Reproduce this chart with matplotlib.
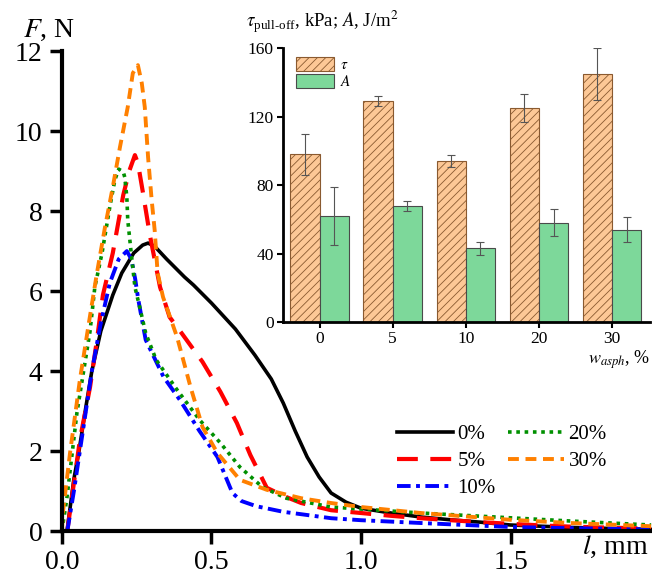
import matplotlib
matplotlib.use("Agg")
import matplotlib.pyplot as plt
import numpy as np

plt.rcParams['font.family'] = ['Liberation Serif', 'DejaVu Serif']
plt.rcParams['mathtext.fontset'] = 'stix'
plt.rcParams['hatch.linewidth'] = 0.6

# ---- main curves: F (N) vs l (mm) ----
x0 = [0.017, 0.04, 0.057, 0.08, 0.10, 0.13, 0.17, 0.2, 0.24, 0.27, 0.288, 0.31, 0.35, 0.41, 0.44, 0.5, 0.58, 0.645,
      0.7, 0.74, 0.78, 0.82, 0.86, 0.9, 0.95, 1.0, 1.1, 1.2, 1.3, 1.4, 1.5, 1.6, 1.7, 1.8, 1.97]
y0 = [0.0, 1.3, 2.0, 3.1, 4.0, 5.0, 5.9, 6.45, 6.95, 7.15, 7.2, 7.12, 6.8, 6.35, 6.15, 5.7, 5.05, 4.4,
      3.8, 3.2, 2.5, 1.85, 1.35, 0.95, 0.72, 0.57, 0.45, 0.35, 0.28, 0.22, 0.15, 0.12, 0.09, 0.07, 0.04]

x5 = [0.018, 0.027, 0.06, 0.094, 0.117, 0.137, 0.17, 0.205, 0.225, 0.244, 0.254, 0.27, 0.294, 0.328, 0.36, 0.40,
      0.47, 0.53, 0.585, 0.63, 0.685, 0.75, 0.8, 0.9, 1.0, 1.1, 1.2, 1.3, 1.4, 1.5, 1.6, 1.7, 1.8, 1.97]
y5 = [0.0, 0.5, 2.28, 3.6, 4.78, 5.9, 6.95, 8.4, 9.0, 9.4, 9.2, 8.5, 7.4, 6.1, 5.35, 4.95,
      4.23, 3.48, 2.7, 1.9, 1.08, 0.85, 0.7, 0.52, 0.45, 0.38, 0.32, 0.27, 0.22, 0.18, 0.14, 0.11, 0.09, 0.06]

x10 = [0.018, 0.04, 0.06, 0.10, 0.13, 0.16, 0.19, 0.217, 0.232, 0.245, 0.255, 0.28, 0.34, 0.395, 0.46, 0.52,
       0.57, 0.6, 0.65, 0.74, 0.9, 1.0, 1.2, 1.5, 1.7, 1.97]
y10 = [0.0, 1.0, 2.0, 4.0, 5.2, 6.2, 6.8, 7.0, 6.8, 6.3, 5.8, 4.78, 3.85, 3.27, 2.5, 1.85,
       0.95, 0.75, 0.62, 0.48, 0.32, 0.27, 0.2, 0.1, 0.07, 0.04]

x20 = [0.0, 0.017, 0.05, 0.094, 0.11, 0.134, 0.16, 0.177, 0.19, 0.205, 0.21, 0.217, 0.22, 0.227, 0.233, 0.244,
       0.26, 0.28, 0.315, 0.385, 0.46, 0.53, 0.595, 0.67, 0.75, 0.9, 1.0, 1.2, 1.5, 1.7, 1.97]
y20 = [0.0, 0.85, 2.95, 5.0, 6.1, 6.95, 8.1, 8.78, 9.05, 8.98, 8.85, 8.35, 7.78, 7.28, 6.85, 6.1,
       5.6, 4.95, 4.28, 3.53, 2.78, 2.2, 1.6, 1.1, 0.82, 0.6, 0.55, 0.45, 0.33, 0.25, 0.15]

x30 = [0.0, 0.003, 0.027, 0.06, 0.09, 0.117, 0.144, 0.17, 0.194, 0.22, 0.237, 0.254, 0.267, 0.277, 0.288, 0.3,
       0.31, 0.32, 0.338, 0.385, 0.43, 0.47, 0.52, 0.595, 0.685, 0.8, 0.9, 1.0, 1.2, 1.5, 1.7, 1.97]
y30 = [0.0, 0.45, 1.95, 3.78, 5.2, 6.45, 7.6, 8.6, 9.6, 10.6, 11.45, 11.65, 11.2, 10.6, 9.35, 8.28,
       7.53, 6.45, 5.85, 4.85, 3.6, 2.6, 1.95, 1.28, 1.03, 0.82, 0.7, 0.6, 0.45, 0.28, 0.2, 0.12]

curve_labels = ['0%', '5%', '10%', '20%', '30%']

# ---- inset bars ----
categories = ['0', '5', '10', '20', '30']
tau = [98, 129, 94, 125, 145]
tau_err = [12, 3, 3.5, 8, 15]
A = [62, 68, 43, 58, 54]
A_err = [17, 3, 4, 8, 7.5]

fig = plt.figure(figsize=(6.52, 5.74), dpi=100)
ax = fig.add_axes([0.095, 0.0749, 0.905, 0.836])

ax.plot(x0, y0, color='black', lw=2.6, ls='-', label=curve_labels[0])
ax.plot(x5, y5, color='#ff0000', lw=3.0, ls=(0, (5, 3)), label=curve_labels[1])
ax.plot(x10, y10, color='#0000ff', lw=2.8, ls=(0, (3.5, 1.4, 1, 1.4)), label=curve_labels[2])
ax.plot(x20, y20, color='#009000', lw=2.6, ls=(0, (1, 1.3)), label=curve_labels[3])
ax.plot(x30, y30, color='#ff8000', lw=2.8, ls=(0, (2.8, 1.7)), label=curve_labels[4])

ax.set_xlim(0, 1.973)
ax.set_ylim(0, 12)
ax.set_xticks([0.0, 0.5, 1.0, 1.5])
ax.set_xticklabels(['0.0', '0.5', '1.0', '1.5'])
ax.set_yticks([0, 2, 4, 6, 8, 10, 12])
for s in ['top', 'right']:
    ax.spines[s].set_visible(False)
for s in ['left', 'bottom']:
    ax.spines[s].set_linewidth(3)
ax.tick_params(axis='both', direction='out', length=9, width=2.5, labelsize=20, pad=5)

fig.text(0.035, 0.935, r'$F$, N', fontsize=20, ha='left', va='baseline')
fig.text(0.995, 0.035, r'$l$, mm', fontsize=20, ha='right', va='baseline')

leg = ax.legend(ncol=2, loc='lower left', bbox_to_anchor=(0.543, 0.038), frameon=False,
                fontsize=15, handlelength=2.7, labelspacing=0.35, columnspacing=0.6,
                handletextpad=0.2, borderpad=0.2)

# ---- inset ----
ins = fig.add_axes([0.434, 0.439, 0.563, 0.477])
ins.patch.set_alpha(0)
pos = np.arange(len(categories))
w = 0.4
ins.bar(pos - w / 2, tau, w, yerr=tau_err, color='#fdc896', edgecolor='#4a4a4a', linewidth=0.8,
        hatch='////', label=r'$\tau$', error_kw=dict(ecolor='#555555', elinewidth=0.8, capsize=3, capthick=0.8))
ins.bar(pos + w / 2, A, w, yerr=A_err, color='#7dd89a', edgecolor='#4a4a4a', linewidth=0.8,
        label=r'$A$', error_kw=dict(ecolor='#555555', elinewidth=0.8, capsize=3, capthick=0.8))
for p in ins.patches[:len(categories)]:
    p.set_edgecolor('#8a5a30')
    p.set_linewidth(0.8)

ins.set_xlim(-0.5, 4.52)
ins.set_ylim(0, 160)
ins.set_xticks(pos)
ins.set_xticklabels(categories)
ins.set_yticks([0, 40, 80, 120, 160])
for s in ['top', 'right']:
    ins.spines[s].set_visible(False)
for s in ['left', 'bottom']:
    ins.spines[s].set_linewidth(2)
ins.tick_params(axis='both', direction='out', length=4, width=1.5, labelsize=12.5, pad=2.5)

ins.legend(loc='upper left', bbox_to_anchor=(0.01, 1.0), frameon=False, fontsize=11,
           handlelength=2.5, handleheight=1.0, labelspacing=0.1, handletextpad=0.4, borderpad=0.1)

fig.text(0.378, 0.952, r'$\tau_{\mathregular{pull\text{-}off}}$, kPa; $A$, J/m$^2$', fontsize=13.5,
         ha='left', va='baseline')
fig.text(0.997, 0.366, r'$w_{asph}$, %', fontsize=13, ha='right', va='baseline')

fig.savefig('out.png', dpi=100)
